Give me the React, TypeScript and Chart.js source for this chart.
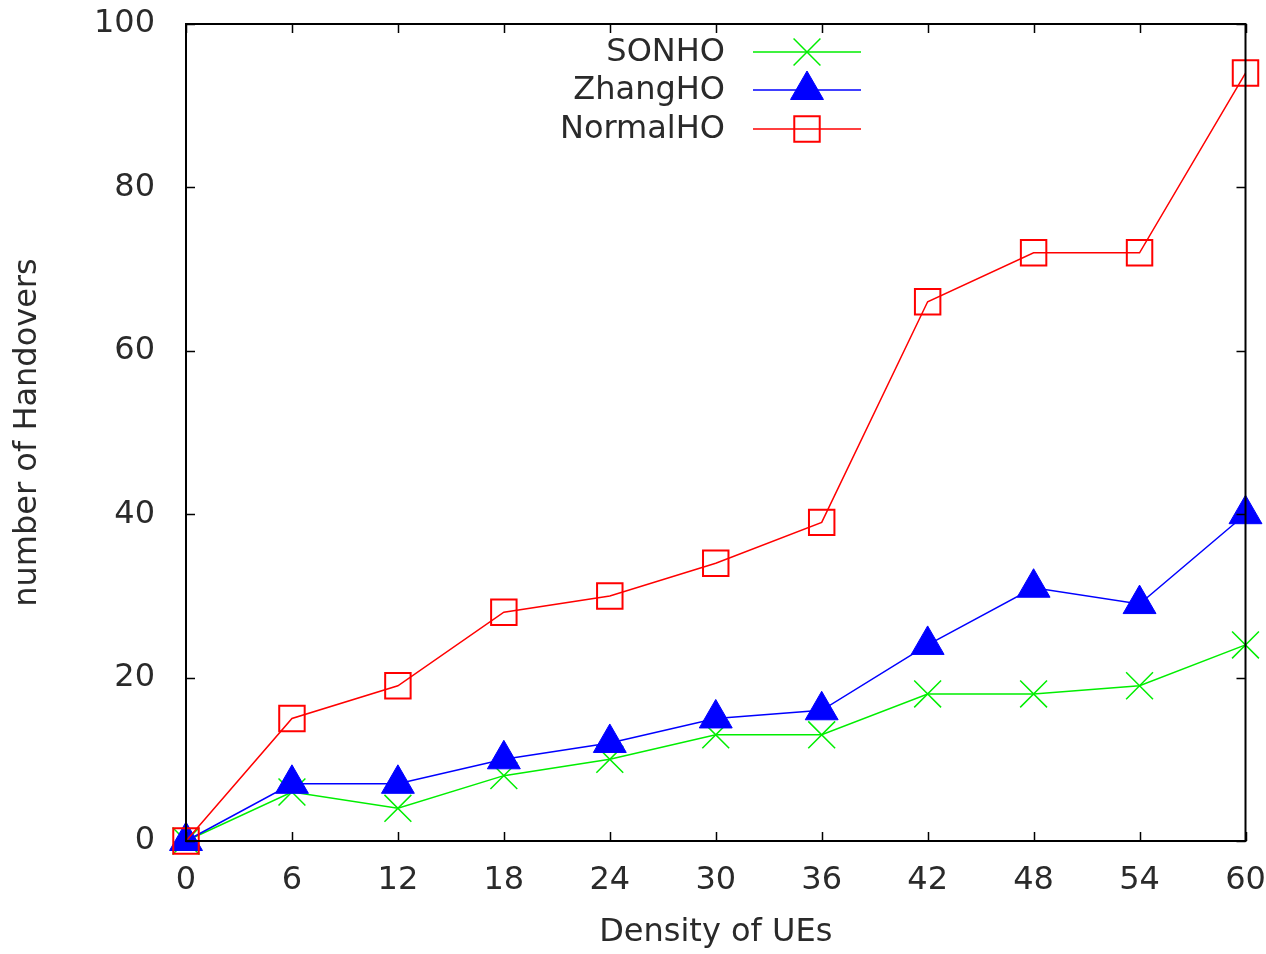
import { useEffect, useRef } from "react";
import { Chart, registerables } from "chart.js";
import { drawPoint } from "chart.js/helpers";

Chart.register(...registerables);

const xValues = [0, 6, 12, 18, 24, 30, 36, 42, 48, 54, 60];
const sonho = [0, 6, 4, 8, 10, 13, 13, 18, 18, 19, 24];
const zhangho = [0, 7, 7, 10, 12, 15, 16, 24, 31, 29, 40];
const normalho = [0, 15, 19, 28, 30, 34, 39, 66, 72, 72, 94];
const seriesNames = ["SONHO", "ZhangHO", "NormalHO"];
const seriesColors = ["#00ee00", "#0000ff", "#ff0000"];
const xTicks = [0, 6, 12, 18, 24, 30, 36, 42, 48, 54, 60];
const yTicks = [0, 20, 40, 60, 80, 100];
const xTitle = "Density of UEs";
const yTitle = "number of Handovers";

const FONT = '"DejaVu Sans", sans-serif';
const TEXT_COLOR = "#2a2a2a";

const framePlugin = {
  id: "gnuplotFrame",
  afterDatasetsDraw(chart: any) {
    const { ctx, chartArea, scales } = chart;
    const { left, right, top, bottom } = chartArea;
    const xs = scales.x;
    const ys = scales.y;
    ctx.save();
    ctx.strokeStyle = "#000";
    ctx.lineWidth = 1.5;
    ctx.beginPath();
    xTicks.forEach((v) => {
      const px = Math.round(xs.getPixelForValue(v)) + 0.5;
      ctx.moveTo(px, bottom);
      ctx.lineTo(px, bottom - 9);
      ctx.moveTo(px, top);
      ctx.lineTo(px, top + 9);
    });
    yTicks.forEach((v) => {
      const py = Math.round(ys.getPixelForValue(v)) + 0.5;
      ctx.moveTo(left, py);
      ctx.lineTo(left + 9, py);
      ctx.moveTo(right, py);
      ctx.lineTo(right - 9, py);
    });
    ctx.stroke();
    ctx.lineWidth = 2;
    ctx.strokeRect(left, top, right - left, bottom - top);

    // legend
    const rowsY = [52, 90, 129];
    ctx.font = `32px ${FONT}`;
    ctx.textAlign = "right";
    ctx.textBaseline = "middle";
    chart.data.datasets.forEach((ds: any, i: number) => {
      const y = rowsY[i];
      ctx.fillStyle = TEXT_COLOR;
      ctx.fillText(ds.label, 725, y + 1);
      ctx.strokeStyle = ds.borderColor;
      ctx.lineWidth = 1.5;
      ctx.beginPath();
      ctx.moveTo(753, y);
      ctx.lineTo(861, y);
      ctx.stroke();
      ctx.fillStyle = ds.pointBackgroundColor;
      ctx.strokeStyle = ds.pointBorderColor;
      ctx.lineWidth = ds.pointBorderWidth;
      drawPoint(
        ctx,
        {
          pointStyle: ds.pointStyle,
          radius: ds.pointRadius,
          rotation: 0,
          borderWidth: ds.pointBorderWidth,
        } as any,
        807,
        y
      );
    });
    ctx.restore();
  },
};

export default function App() {
  const canvasRef = useRef<HTMLCanvasElement | null>(null);

  useEffect(() => {
    document.body.style.margin = "0";
    const canvas = canvasRef.current;
    if (!canvas) return;
    const mk = (vals: number[]) => xValues.map((x, i) => ({ x, y: vals[i] }));
    const chart = new Chart(canvas, {
      type: "line",
      data: {
        datasets: [
          {
            label: seriesNames[0],
            data: mk(sonho),
            borderColor: seriesColors[0],
            borderWidth: 1.5,
            pointStyle: "crossRot",
            pointRadius: 19,
            pointBorderColor: seriesColors[0],
            pointBackgroundColor: "rgba(0,0,0,0)",
            pointBorderWidth: 1.5,
            order: 2,
            clip: false,
          } as any,
          {
            label: seriesNames[1],
            data: mk(zhangho),
            borderColor: seriesColors[1],
            borderWidth: 1.5,
            pointStyle: "triangle",
            pointRadius: 19,
            pointBorderColor: seriesColors[1],
            pointBackgroundColor: seriesColors[1],
            pointBorderWidth: 1,
            order: 1,
            clip: false,
          },
          {
            label: seriesNames[2],
            data: mk(normalho),
            borderColor: seriesColors[2],
            borderWidth: 1.5,
            pointStyle: "rect",
            pointRadius: 18,
            pointBorderColor: seriesColors[2],
            pointBackgroundColor: "rgba(0,0,0,0)",
            pointBorderWidth: 2,
            order: 0,
            clip: false,
          },
        ],
      },
      options: {
        animation: false,
        responsive: false,
        maintainAspectRatio: false,
        layout: { padding: { top: 24, right: 20, left: 0, bottom: 0 } },
        plugins: {
          legend: { display: false },
          tooltip: { enabled: false },
        },
        elements: { line: { tension: 0 } },
        scales: {
          x: {
            type: "linear",
            min: 0,
            max: 60,
            afterBuildTicks: (s: any) => {
              s.ticks = xTicks.map((v) => ({ value: v }));
            },
            ticks: {
              autoSkip: false,
              maxRotation: 0,
              padding: 20,
              color: TEXT_COLOR,
              font: { family: FONT, size: 32 },
            },
            grid: { display: false, drawTicks: false },
            border: { display: false },
            title: {
              display: true,
              text: xTitle,
              color: TEXT_COLOR,
              font: { family: FONT, size: 32 },
              padding: { top: 0, bottom: 2 },
            },
            afterFit: (s: any) => {
              s.height = 113;
              s.paddingLeft = 0;
              s.paddingRight = 0;
            },
          },
          y: {
            type: "linear",
            min: 0,
            max: 100,
            afterBuildTicks: (s: any) => {
              s.ticks = yTicks.map((v) => ({ value: v }));
            },
            ticks: {
              padding: 31,
              color: TEXT_COLOR,
              font: { family: FONT, size: 32 },
            },
            grid: { display: false, drawTicks: false },
            border: { display: false },
            title: {
              display: true,
              text: yTitle,
              color: TEXT_COLOR,
              font: { family: FONT, size: 32 },
              padding: { top: 8, bottom: 0 },
            },
            afterFit: (s: any) => {
              s.width = 186;
              s.paddingTop = 0;
              s.paddingBottom = 0;
            },
          },
        },
      },
      plugins: [framePlugin],
    });
    return () => chart.destroy();
  }, []);

  return (
    <div style={{ position: "absolute", left: 0, top: 0, width: 1266, height: 954, background: "#fff" }}>
      <canvas ref={canvasRef} width={1266} height={954} style={{ display: "block" }} />
    </div>
  );
}
